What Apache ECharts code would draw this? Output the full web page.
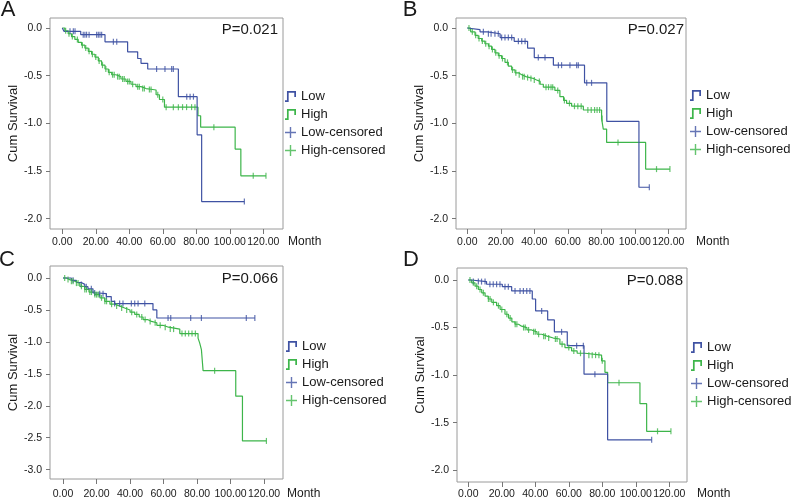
<!DOCTYPE html>
<html>
<head>
<meta charset="utf-8">
<script src="https://cdn.jsdelivr.net/npm/echarts@6/dist/echarts.min.js"></script>
<style>
html, body { margin: 0; padding: 0; background: #fff; }
#chart { width: 792px; height: 501px; }
</style>
</head>
<body>
<div id="chart"></div>
<script>
var chart = echarts.init(document.getElementById('chart'));

// tick labels
var monthTicks = [0, 20, 40, 60, 80, 100, 120];
var cumTicks2 = [0, -0.5, -1, -1.5, -2];
var cumTicks3 = [0, -0.5, -1, -1.5, -2, -2.5, -3];
var panelNames = ['A', 'B', 'C', 'D'];
var pValues = ['P=0.021', 'P=0.027', 'P=0.066', 'P=0.088'];
var groupNames = ['Low', 'High', 'Low-censored', 'High-censored'];

// A: step times / cumulative values / last follow-up / censored times
var aLowTime = [0, 1, 11, 25.5, 39, 45, 47, 51, 69.3, 80.5, 83.2];
var aLowCum = [0, -0.035, -0.07, -0.145, -0.25, -0.32, -0.37, -0.43, -0.72, -1.12, -1.82];
var aLowEnd = 108.7;
var aLowCens = [4.6, 6.6, 7.6, 12.5, 13.5, 14.5, 16, 20.5, 21.5, 22.5, 23.5, 30.5, 32.5, 56.3, 61.3, 65.3, 66.3, 74.3, 76.3, 78.3, 108.7];
var aHighTime = [0, 1.5, 3.5, 5.5, 7.5, 9.5, 11.5, 13.5, 15.5, 17.5, 19.5, 21.5, 23.5, 25.5, 27.5, 29.5, 32, 35, 38, 41, 44, 47, 50, 54, 56, 58, 61, 81, 82.6, 103.2, 106.6];
var aHighCum = [0, -0.03, -0.06, -0.09, -0.12, -0.15, -0.18, -0.21, -0.245, -0.275, -0.305, -0.345, -0.39, -0.43, -0.465, -0.49, -0.51, -0.535, -0.56, -0.59, -0.615, -0.635, -0.645, -0.65, -0.70, -0.75, -0.83, -0.92, -1.04, -1.27, -1.55];
var aHighEnd = 121.6;
var aHighCens = [2, 4, 6, 9, 12, 14, 16, 18, 20, 22, 24, 26, 28, 30, 31, 33, 34, 36, 37, 39, 40, 42, 45, 46, 48, 49, 52, 53, 57, 60, 62, 66.3, 69.3, 71.8, 74.2, 77.2, 79.2, 90.5, 114, 121.6];

// B
var bLowTime = [0, 0.5, 7.6, 12, 19.6, 28, 36, 40, 51.4, 70, 83.3, 102.5];
var bLowCum = [0, -0.017, -0.04, -0.06, -0.1, -0.14, -0.21, -0.31, -0.39, -0.575, -0.98, -1.67];
var bLowEnd = 108.7;
var bLowCens = [9.6, 12.6, 14.2, 16.5, 18.5, 20.5, 22.5, 24.5, 26.5, 30.5, 32.5, 34.5, 42.4, 46.4, 54.4, 56.3, 61.3, 65.3, 66.3, 71.3, 74.2, 108.7];
var bHighTime = [0, 2, 4.6, 6.5, 8.6, 10.5, 12.6, 14.5, 16.5, 18.5, 20.5, 22.5, 24.5, 26.5, 28.5, 30.5, 32.5, 35, 37.4, 39.5, 41.4, 43.5, 45.4, 52.3, 55.3, 57.5, 59.3, 62.3, 69.3, 80.2, 81.2, 83.2, 106.5];
var bHighCum = [0, -0.04, -0.077, -0.11, -0.137, -0.165, -0.19, -0.225, -0.26, -0.29, -0.32, -0.36, -0.40, -0.44, -0.47, -0.49, -0.51, -0.52, -0.53, -0.545, -0.56, -0.59, -0.62, -0.655, -0.72, -0.76, -0.79, -0.82, -0.86, -0.95, -1.06, -1.2, -1.48];
var bHighEnd = 121;
var bHighCens = [1, 3, 5, 7, 9, 11, 13, 15, 17, 19, 21, 24, 27, 29, 31, 33, 34, 36, 38, 40, 43, 47, 48.5, 50, 51, 54, 58, 61, 64, 66, 68, 72, 74, 76, 77.5, 79, 80.5, 90, 113, 121];

// C
var cLowTime = [0, 5, 8, 10.9, 13, 14.9, 17.9, 20.9, 25.9, 28.8, 30.8, 53.7, 56];
var cLowCum = [0, -0.037, -0.07, -0.10, -0.135, -0.17, -0.235, -0.245, -0.29, -0.365, -0.40, -0.50, -0.626];
var cLowEnd = 114.5;
var cLowCens = [6, 10.9, 13.9, 16.9, 18.9, 21.9, 23.9, 25.9, 30.8, 33.8, 35.8, 40.8, 42.8, 44.8, 48.8, 62.7, 64.3, 76.2, 82.6, 109.4, 114.5];
var cHighTime = [0, 2, 4, 7, 10, 12.9, 15.5, 18.9, 22, 24.9, 28, 30.8, 34, 36.8, 40, 42.8, 45.5, 47.8, 50.5, 52.8, 56, 59.7, 63, 69.7, 80.6, 81.6, 82.6, 83.6, 103.1, 107.1];
var cHighCum = [0, -0.025, -0.05, -0.08, -0.13, -0.18, -0.22, -0.26, -0.31, -0.365, -0.41, -0.44, -0.47, -0.50, -0.535, -0.57, -0.61, -0.65, -0.68, -0.70, -0.74, -0.77, -0.80, -0.87, -0.94, -1.02, -1.12, -1.45, -1.85, -2.55];
var cHighEnd = 121.4;
var cHighCens = [1, 3, 5, 6, 8, 9, 11, 13, 14, 16, 17, 19, 20, 21, 23, 25, 26, 29, 32, 35, 38, 41, 44, 47, 49, 52, 55, 58, 61, 64, 66, 71, 73, 75, 77, 79, 90.5, 121.4];

// D
var dLowTime = [0, 1.6, 10.9, 20.3, 25.9, 38.2, 40.2, 47.4, 51.4, 59.1, 69.1, 83.2];
var dLowCum = [0, -0.017, -0.045, -0.07, -0.115, -0.2, -0.325, -0.42, -0.545, -0.69, -0.99, -1.68];
var dLowEnd = 109.5;
var dLowCens = [3, 6, 7.9, 10, 12.9, 14.9, 16.9, 18.9, 21.9, 23.9, 27.9, 30.9, 32.9, 34.9, 36.8, 43.8, 55.7, 64.7, 68.7, 75.6, 109.5];
var dHighTime = [0, 2, 4, 6, 8, 10, 11.9, 14, 16.9, 19, 21.9, 24, 26, 27.9, 30, 31.8, 35, 37.8, 41, 43.8, 47, 50.8, 54.7, 57.7, 61.7, 65, 69.7, 79.6, 81.6, 83.2, 102.5, 106.5];
var dHighCum = [0, -0.03, -0.065, -0.1, -0.135, -0.17, -0.2, -0.235, -0.27, -0.31, -0.36, -0.40, -0.44, -0.465, -0.485, -0.50, -0.525, -0.545, -0.57, -0.59, -0.61, -0.62, -0.675, -0.71, -0.745, -0.77, -0.79, -0.85, -0.97, -1.08, -1.30, -1.59];
var dHighEnd = 121;
var dHighCens = [1, 3, 5, 7, 9, 12, 13, 15, 18, 20, 23, 25, 28, 29, 33, 34, 36, 39, 40, 42, 45, 46, 48, 52, 53, 56, 60, 63, 67, 72, 74, 76, 78, 80, 90, 113, 121];

var curves = [
    { low: [aLowTime, aLowCum, aLowEnd, aLowCens], high: [aHighTime, aHighCum, aHighEnd, aHighCens] },
    { low: [bLowTime, bLowCum, bLowEnd, bLowCens], high: [bHighTime, bHighCum, bHighEnd, bHighCens] },
    { low: [cLowTime, cLowCum, cLowEnd, cLowCens], high: [cHighTime, cHighCum, cHighEnd, cHighCens] },
    { low: [dLowTime, dLowCum, dLowEnd, dLowCens], high: [dHighTime, dHighCum, dHighEnd, dHighCens] }
];

// panel layout (pixels / axis extents)
var layout = [
    { left: 50, top: 18, width: 233, height: 211, xMin: -7.34, xMax: 131.77, yMin: -2.108, yMax: 0.105, yTicks: cumTicks2,
      labelMargin: 8, monthGap: 5, monthPad: 7, pX: 278, pY: 30, lx: 8, ly: 10, legendLeft: 285, legendTop: 90, nameGap: 27 },
    { left: 456, top: 18, width: 230, height: 211, xMin: -6.75, xMax: 130.6, yMin: -2.108, yMax: 0.105, yTicks: cumTicks2,
      labelMargin: 8, monthGap: 10, monthPad: 7, pX: 684, pY: 30, lx: 410, ly: 10, legendLeft: 690, legendTop: 89, nameGap: 29 },
    { left: 50, top: 266, width: 233, height: 213, xMin: -7.76, xMax: 131.3, yMin: -3.146, yMax: 0.188, yTicks: cumTicks3,
      labelMargin: 10, monthGap: 4, monthPad: 9, pX: 278, pY: 279, lx: 7, ly: 260, legendLeft: 286, legendTop: 340, nameGap: 27 },
    { left: 457, top: 268, width: 230, height: 214, xMin: -6.75, xMax: 130.6, yMin: -2.123, yMax: 0.126, yTicks: cumTicks2,
      labelMargin: 7, monthGap: 10, monthPad: 6, pX: 683, pY: 281, lx: 411, ly: 260, legendLeft: 691, legendTop: 341, nameGap: 29 }
];

var BLUE = '#3f52a3';
var GREEN = '#3db54a';
var TEXT = '#1a1a1a';
var FONT = "'Liberation Sans', Arial, sans-serif";

function stepData(c) {
    var d = c[0].map(function (t, i) { return [t, c[1][i]]; });
    d.push([c[2], c[1][c[1].length - 1]]);
    return d;
}
function censData(c) {
    return c[3].map(function (t) {
        var v = c[1][0];
        for (var i = 0; i < c[0].length; i++) {
            if (c[0][i] <= t) v = c[1][i];
        }
        return [t, v];
    });
}

var stepIcon = 'path://M0,9.6h3v1.4h-3z M1.6,2h1.4v9h-1.4z M1.6,2h7.4v1.4h-7.4z M7.6,2h1.4v5h-1.4z';
var plusIcon = 'path://M0,4.8h11v1.4h-11z M4.8,0h1.4v11h-1.4z';

var grids = [], xAxes = [], yAxes = [], series = [], legends = [], graphics = [];
layout.forEach(function (L, k) {
    grids.push({ left: L.left, top: L.top, width: L.width, height: L.height, show: true,
        borderColor: '#9a9a9a', borderWidth: 1, backgroundColor: 'transparent' });
    xAxes.push({
        type: 'value', gridIndex: k, min: L.xMin, max: L.xMax,
        name: 'Month', nameLocation: 'end', nameGap: L.monthGap,
        nameTextStyle: { color: TEXT, fontSize: 12, fontFamily: FONT, verticalAlign: 'top', padding: [L.monthPad, 0, 0, 0] },
        axisLine: { show: false, onZero: false },
        axisTick: { show: true, length: 5, customValues: monthTicks, lineStyle: { color: '#777' } },
        axisLabel: { customValues: monthTicks, margin: L.labelMargin, color: TEXT, fontSize: 10.5, fontFamily: FONT,
            formatter: function (v) { return v.toFixed(2); } },
        splitLine: { show: false }
    });
    yAxes.push({
        type: 'value', gridIndex: k, min: L.yMin, max: L.yMax,
        name: 'Cum Survival', nameLocation: 'middle', nameGap: L.nameGap,
        nameTextStyle: { color: TEXT, fontSize: 13, fontFamily: FONT },
        axisLine: { show: false, onZero: false },
        axisTick: { show: true, length: 4, customValues: L.yTicks, lineStyle: { color: '#777' } },
        axisLabel: { customValues: L.yTicks, margin: 8, color: TEXT, fontSize: 10.5, fontFamily: FONT,
            formatter: function (v) { return v.toFixed(1); } },
        splitLine: { show: false }
    });
    var c = curves[k];
    series.push(
        { name: 'Low', type: 'line', xAxisIndex: k, yAxisIndex: k, step: 'end', symbol: 'none', color: BLUE,
          lineStyle: { width: 1.2, color: BLUE }, data: stepData(c.low), z: 3 },
        { name: 'High', type: 'line', xAxisIndex: k, yAxisIndex: k, step: 'end', symbol: 'none', color: GREEN,
          lineStyle: { width: 1.2, color: GREEN }, data: stepData(c.high), z: 2 },
        { name: 'Low-censored', type: 'scatter', xAxisIndex: k, yAxisIndex: k, symbol: 'rect', symbolSize: [1.2, 6],
          color: BLUE, itemStyle: { color: BLUE }, data: censData(c.low), z: 4 },
        { name: 'High-censored', type: 'scatter', xAxisIndex: k, yAxisIndex: k, symbol: 'rect', symbolSize: [1.2, 6],
          color: GREEN, itemStyle: { color: GREEN }, data: censData(c.high), z: 4 }
    );
    legends.push({
        orient: 'vertical', left: L.legendLeft, top: L.legendTop, padding: 0, itemGap: 5,
        itemWidth: 11, itemHeight: 14, selectedMode: false,
        textStyle: { color: TEXT, fontSize: 13, fontFamily: FONT },
        data: [
            { name: groupNames[0], icon: stepIcon, itemStyle: { color: BLUE } },
            { name: groupNames[1], icon: stepIcon, itemStyle: { color: GREEN } },
            { name: groupNames[2], icon: plusIcon, itemStyle: { color: BLUE } },
            { name: groupNames[3], icon: plusIcon, itemStyle: { color: GREEN } }
        ]
    });
    graphics.push(
        { type: 'text', x: L.pX, y: L.pY, style: { text: pValues[k], fill: TEXT, font: '15px ' + FONT, align: 'right', verticalAlign: 'middle' } },
        { type: 'text', x: L.lx, y: L.ly, style: { text: panelNames[k], fill: TEXT, font: '22px ' + FONT, align: 'center', verticalAlign: 'middle' } }
    );
});

var option = {
    animation: false,
    backgroundColor: '#fff',
    grid: grids,
    xAxis: xAxes,
    yAxis: yAxes,
    legend: legends,
    graphic: graphics,
    series: series
};
chart.setOption(option);
</script>
</body>
</html>
